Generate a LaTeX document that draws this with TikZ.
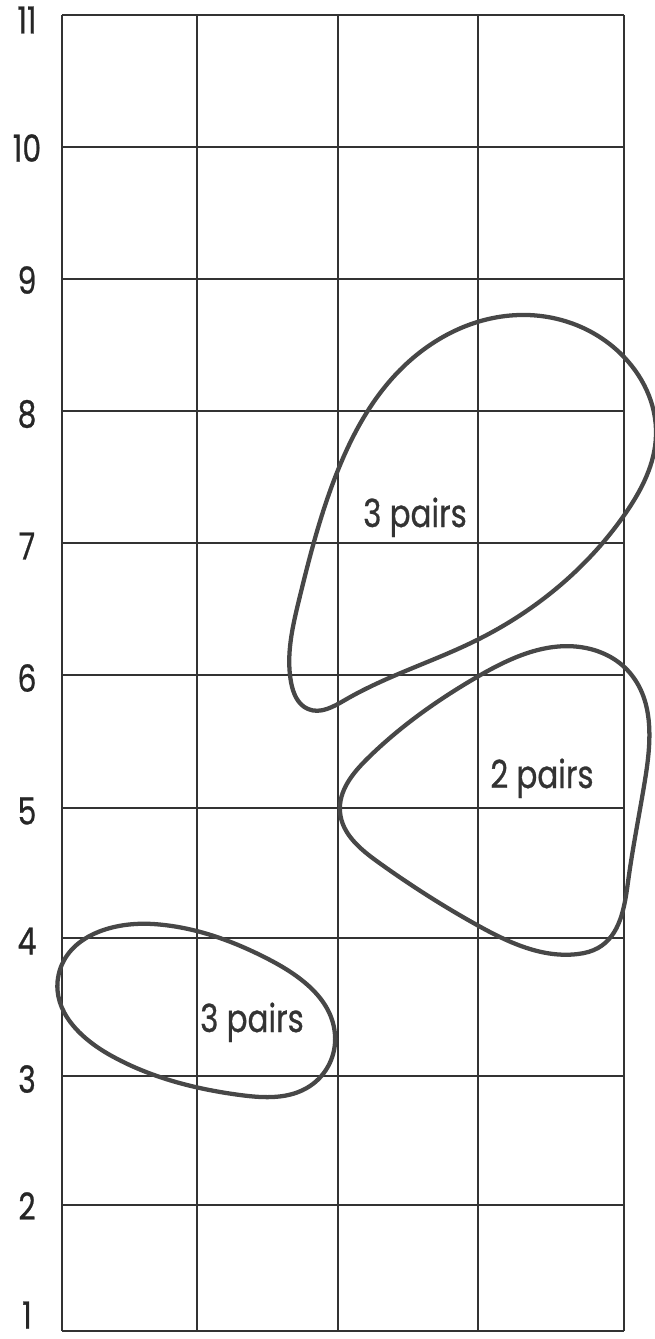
\documentclass[tikz,border=0pt]{standalone}
\usepackage{fontspec}
\setmainfont{Poppins}
\newfontfamily\lblfont[FakeBold=0.8]{Poppins}
\usepackage{graphicx}
\usetikzlibrary{hobby}
\newcommand{\sq}[1]{\scalebox{0.8}[1]{#1}}
\begin{document}
\begin{tikzpicture}[x=0.75pt,y=-0.75pt,
  gridline/.style={draw=black!80, line width=0.9pt},
  loopline/.style={draw=black!72, line width=3.2pt, line join=round, use Hobby shortcut, closed=true},
  axislabel/.style={font=\lblfont\fontsize{28}{30}\selectfont, text=black!85, inner sep=0pt},
  looplabel/.style={font=\lblfont\fontsize{29}{31}\selectfont, text=black!80, inner sep=0pt, anchor=base}]
\useasboundingbox (0,0) rectangle (655,1339);
% grid
\foreach \xx in {62,197,338,478,624}
  \draw[gridline] (\xx,15) -- (\xx,1331);
\foreach \yy in {15,147,279,411,543,675,808,938,1076,1205,1331}
  \draw[gridline] (62,\yy) -- (624,\yy);
% axis labels
\node[axislabel] (y11) at (27,20) {\sq{11}};
\node[axislabel] (y10) at (27,148) {\sq{10}};
\node[axislabel] (y9) at (27,280) {\sq{9}};
\node[axislabel] (y8) at (27,414) {\sq{8}};
\node[axislabel] (y7) at (27,546) {\sq{7}};
\node[axislabel] (y6) at (27,678) {\sq{6}};
\node[axislabel] (y5) at (27,811) {\sq{5}};
\node[axislabel] (y4) at (27,941) {\sq{4}};
\node[axislabel] (y3) at (27,1079) {\sq{3}};
\node[axislabel] (y2) at (27,1206) {\sq{2}};
\node[axislabel] (y1) at (27,1315) {\sq{1}};
% upper loop
\draw[loopline] (527,315) .. (620,353) .. (656,435) .. (625,514) .. (477,640)
  .. (345,700) .. (308,709) .. (291,682) .. (299,600) .. (338,470) .. (400,370);
% middle loop
\draw[loopline] (580,647) .. (630,673) .. (645,780) .. (628,882) .. (598,948)
  .. (578,954) .. (477,925) .. (378,862) .. (340,812) .. (368,758) .. (477,677);
% lower loop
\draw[loopline] (58,978) .. (153,924) .. (270,960) .. (335,1035) .. (310,1086)
  .. (240,1095) .. (110,1055);
% loop labels
\node[looplabel] (l1) at (415,527) {\sq{3 pairs}};
\node[looplabel] (l2) at (542,788) {\sq{2 pairs}};
\node[looplabel] (l3) at (252,1032) {\sq{3 pairs}};
\end{tikzpicture}
\end{document}
